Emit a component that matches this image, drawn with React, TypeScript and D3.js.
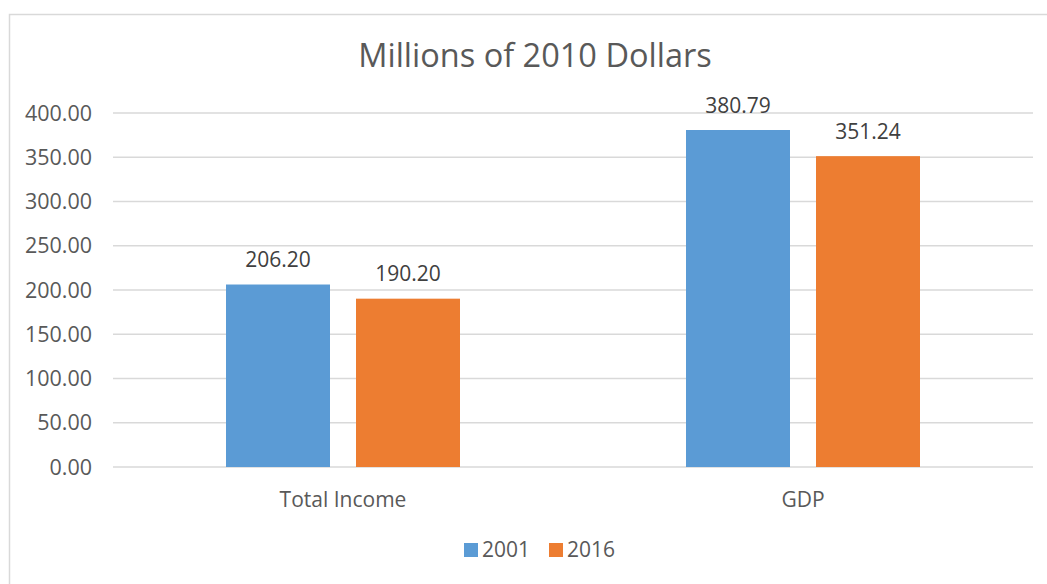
import React from "react";
import * as d3 from "d3";

const categories = ["Total Income", "GDP"];
const seriesNames = ["2001", "2016"];
const values2001 = [206.2, 380.79];
const values2016 = [190.2, 351.24];
const yTicks = [0, 50, 100, 150, 200, 250, 300, 350, 400];
const colors = ["#5B9BD5", "#ED7D31"];

export default function App() {
  const W = 1047, H = 584;
  const left = 113, right = 1033, top = 113, bottom = 467;
  const x0 = d3.scaleBand().domain(categories).range([left, right]).paddingInner(0).paddingOuter(0);
  const y = d3.scaleLinear().domain([0, 400]).range([bottom, top]);
  const barW = 104, gap = 26;
  const series = [values2001, values2016];
  const font = "'Open Sans', sans-serif";
  const textColor = "#595959";
  const fs = 21;
  return (
    <svg width={W} height={H} style={{ position: "absolute", left: 0, top: 0 }} fontFamily={font}>
      <rect x={0} y={0} width={W} height={H} fill="#fff" />
      <rect x={9.5} y={14.5} width={1200} height={700} fill="#fff" stroke="#d9d9d9" strokeWidth={1.5} />
      <text x={535} y={67} textAnchor="middle" fontSize={32.5} fill={textColor}>Millions of 2010 Dollars</text>
      {yTicks.map((t) => (
        <g key={t}>
          <line x1={left} x2={right} y1={y(t)} y2={y(t)} stroke="#d9d9d9" strokeWidth={1.3} />
          <text x={92} y={y(t) + 7.5} textAnchor="end" fontSize={21.5} fill={textColor}>{t.toFixed(2)}</text>
        </g>
      ))}
      {categories.map((c, ci) => {
        const cx = (x0(c) as number) + x0.bandwidth() / 2;
        return (
          <g key={c}>
            {series.map((vals, si) => {
              const bx = cx - gap / 2 - barW + si * (barW + gap);
              const v = vals[ci];
              return (
                <g key={si}>
                  <rect x={bx} y={y(v)} width={barW} height={bottom - y(v)} fill={colors[si]} />
                  <text x={bx + barW / 2} y={y(v) - 17.5} textAnchor="middle" fontSize={fs} fill="#404040">{v.toFixed(2)}</text>
                </g>
              );
            })}
            <text x={cx} y={507} textAnchor="middle" fontSize={fs} fill={textColor}>{c}</text>
          </g>
        );
      })}
      {seriesNames.map((s, i) => {
        const lx = 464 + i * 85;
        return (
          <g key={s}>
            <rect x={lx} y={543} width={14} height={14} fill={colors[i]} />
            <text x={lx + 18} y={557} fontSize={fs} fill={textColor}>{s}</text>
          </g>
        );
      })}
    </svg>
  );
}
